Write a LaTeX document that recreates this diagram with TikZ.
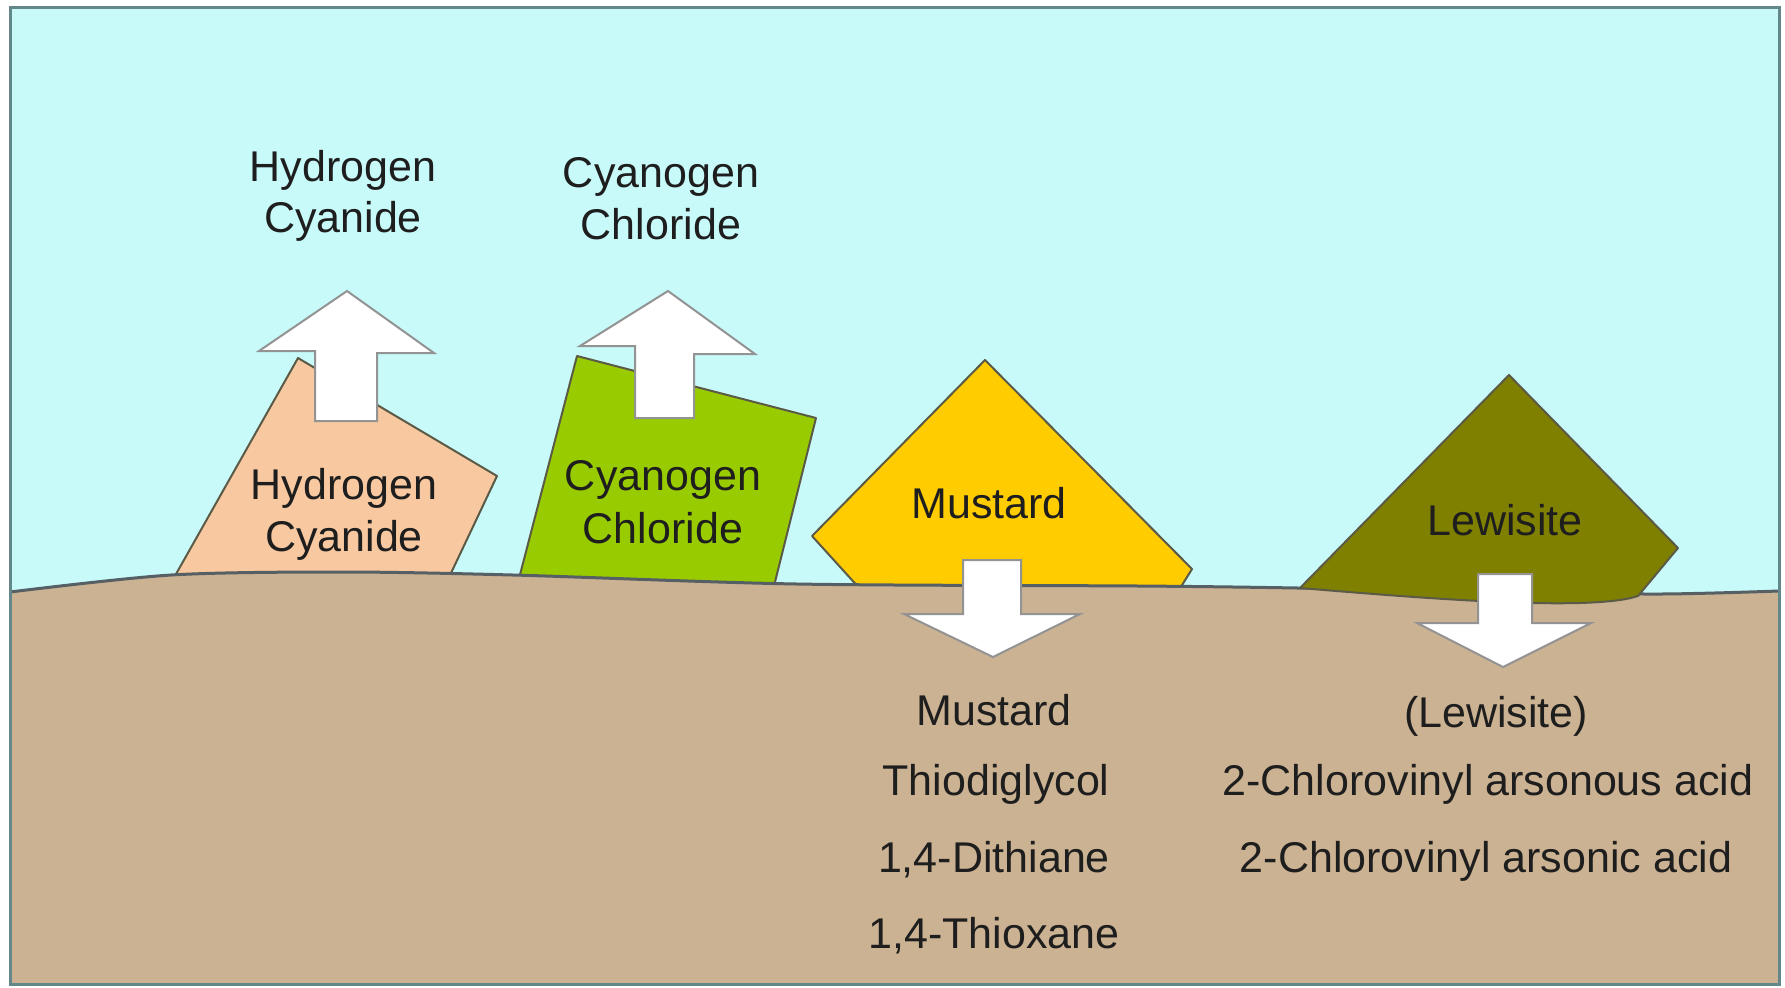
\documentclass[tikz,border=0pt]{standalone}
\usepackage{fontspec}
\setmainfont{Liberation Sans}
\definecolor{sky}{RGB}{200,250,250}
\definecolor{soil}{RGB}{203,178,146}
\definecolor{peach}{RGB}{248,200,160}
\definecolor{leaf}{RGB}{153,204,0}
\definecolor{mustardc}{RGB}{255,204,0}
\definecolor{olivec}{RGB}{128,128,0}
\definecolor{edgec}{RGB}{90,90,70}
\definecolor{linec}{RGB}{85,95,100}
\definecolor{framec}{RGB}{100,135,138}
\definecolor{txt}{RGB}{30,30,30}
\begin{document}
\begin{tikzpicture}[x=0.5pt,y=-0.5pt,
  lbl/.style={anchor=base,inner sep=0pt,text=txt,font=\fontsize{21.5pt}{26pt}\selectfont},
  agent/.style={draw=edgec,line width=1pt,line join=round},
  blockarrow/.style={fill=white,draw=gray!85,line width=1pt,line join=miter}]
\useasboundingbox (0,0) rectangle (1785,987);
\fill[white] (0,0) rectangle (1785,987);
\fill[sky] (10,7) rectangle (1779,984);
% agents sitting on the surface
\draw[agent,fill=peach] (167,590) -- (298,358) -- (497,476) -- (443,590) -- cycle;
\draw[agent,fill=leaf] (516,590) -- (577,356) -- (816,418) -- (773,590) -- cycle;
\draw[agent,fill=mustardc] (861,590) -- (812,536) -- (985,360) -- (1192,569) -- (1179,590) -- cycle;
% ground
\fill[soil] plot[smooth] coordinates {(10,592) (171,575) (342,572) (513,575) (797,584) (1139,586) (1298,588) (1500,592) (1660,594) (1779,591)} -- (1779,984) -- (10,984) -- cycle;
\draw[linec,line width=1.5pt] plot[smooth] coordinates {(10,592) (171,575) (342,572) (513,575) (797,584) (1139,586) (1298,588) (1500,592) (1660,594) (1779,591)};
% Lewisite sinks into the ground
\draw[agent,fill=olivec] (1300,588) -- (1509,375) -- (1678,548) -- (1638,596) .. controls (1590,612) and (1420,598) .. (1300,588) -- cycle;
% block arrows
\draw[blockarrow] (347,291) -- (434,353) -- (377,353) -- (377,421) -- (315,421) -- (315,351) -- (259,351) -- cycle;
\draw[blockarrow] (668,291) -- (755,354) -- (694,354) -- (694,418) -- (635,418) -- (635,346) -- (580,346) -- cycle;
\draw[blockarrow] (963,560) -- (1021,560) -- (1021,614) -- (1080,614) -- (993,657) -- (904,614) -- (963,614) -- cycle;
\draw[blockarrow] (1478,574) -- (1532,574) -- (1532,623) -- (1591,623) -- (1503,667) -- (1417,623) -- (1478,623) -- cycle;
% frame
\draw[framec,line width=1.5pt] (10,7) rectangle (1779,984);
% labels in the air
\node[lbl] (hcA1) at (343,181) {Hydrogen};
\node[lbl] (hcA2) at (343,232) {Cyanide};
\node[lbl] (ccA1) at (661,187) {Cyanogen};
\node[lbl] (ccA2) at (661,239) {Chloride};
% labels on the agents
\node[lbl] (hcB1) at (344,499) {Hydrogen};
\node[lbl] (hcB2) at (344,551) {Cyanide};
\node[lbl] (ccB1) at (663,490) {Cyanogen};
\node[lbl] (ccB2) at (663,543) {Chloride};
\node[lbl] (mus) at (989,518) {Mustard};
\node[lbl] (lew) at (1505,535) {Lewisite};
% labels in the ground
\node[lbl] (m1) at (994,725) {Mustard};
\node[lbl] (m2) at (996,795) {Thiodiglycol};
\node[lbl] (m3) at (994,872) {1,4-Dithiane};
\node[lbl] (m4) at (994,948) {1,4-Thioxane};
\node[lbl] (l1) at (1496,727) {(Lewisite)};
\node[lbl] (l2) at (1488,795) {2-Chlorovinyl arsonous acid};
\node[lbl] (l3) at (1486,872) {2-Chlorovinyl arsonic acid};
\end{tikzpicture}
\end{document}
